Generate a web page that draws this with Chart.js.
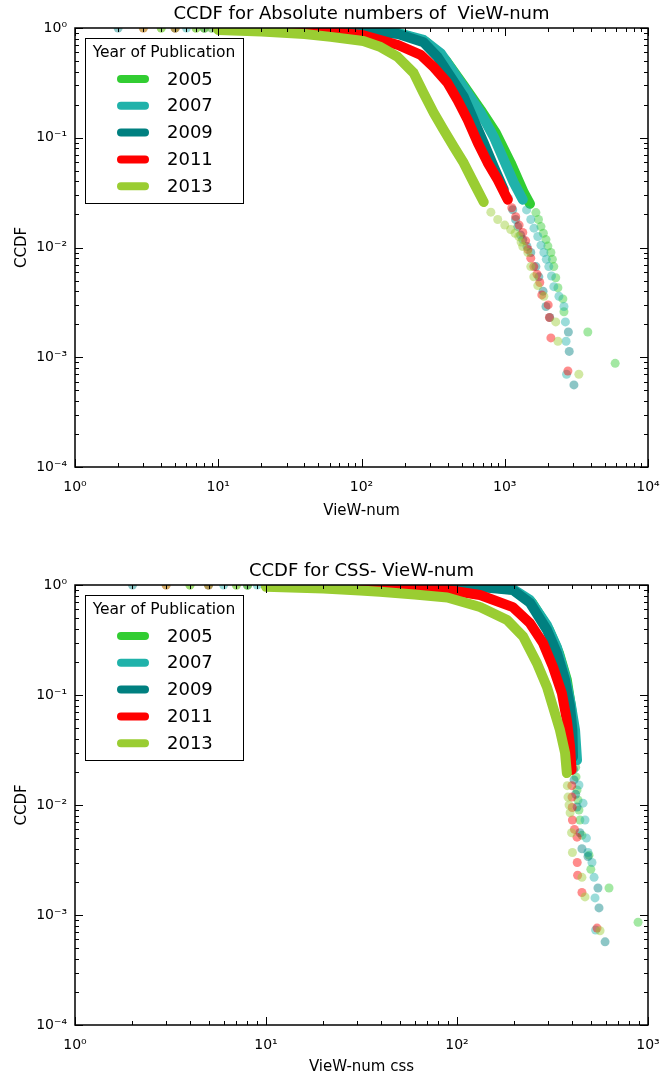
<!DOCTYPE html>
<html>
<head>
<meta charset="utf-8">
<script src="https://cdn.jsdelivr.net/npm/chart.js@4/dist/chart.umd.min.js"></script>
<style>
  html, body { margin: 0; padding: 0; background: #fff; }
  #wrap { position: relative; width: 663px; height: 1078px; }
  canvas { position: absolute; left: 0; }
</style>
</head>
<body>
<div id="wrap">
  <canvas id="absChart" width="663" height="540" style="top:0;width:663px;height:540px"></canvas>
  <canvas id="cssChart" width="663" height="538" style="top:540px;width:663px;height:538px"></canvas>
</div>
<script>
// years and colours (matplotlib named colours)
const years = ['2005', '2007', '2009', '2011', '2013'];
const colors = ['#32CD32', '#20B2AA', '#008080', '#FF0000', '#9ACD32'];
const dotColors = ['rgba(50,205,50,0.45)', 'rgba(32,178,170,0.45)', 'rgba(0,128,128,0.45)',
                   'rgba(255,0,0,0.45)', 'rgba(154,205,50,0.45)'];

const yTicks = [1e-4, 1e-3, 1e-2, 1e-1, 1];
const absXTicks = [1, 10, 100, 1000, 10000];
const cssXTicks = [1, 10, 100, 1000];

// --- CCDF for Absolute numbers of VieW-num : [value, ccdf]
// dense part of each curve
const absBody2005 = [[10,0.99],[20,0.985],[40,0.975],[61,0.96],[100,0.94],[180,0.90],[280,0.75],[387,0.51],[517,0.30],[679,0.18],[865,0.111],[1100,0.059],[1360,0.0316],[1500,0.025]];
const absBody2007 = [[10,0.995],[20,0.985],[40,0.975],[61,0.96],[100,0.94],[180,0.90],[271,0.78],[357,0.59],[517,0.29],[679,0.169],[838,0.102],[984,0.063],[1156,0.039],[1336,0.0273]];
const absBody2009 = [[10,0.995],[20,0.99],[40,0.98],[61,0.965],[103,0.95],[180,0.88],[271,0.74],[340,0.545],[419,0.36],[517,0.236],[607,0.146],[713,0.090],[838,0.0545],[984,0.0337]];
const absBody2011 = [[10,0.99],[20,0.975],[33.5,0.96],[61,0.92],[103,0.86],[180,0.70],[259,0.57],[319,0.44],[399,0.316],[469,0.22],[551,0.146],[648,0.090],[761,0.059],[893,0.0415],[1050,0.0273]];
const absBody2013 = [[10,0.96],[20,0.93],[40,0.88],[61,0.83],[103,0.76],[136,0.67],[179,0.545],[231,0.39],[271,0.256],[319,0.169],[374,0.118],[440,0.083],[517,0.059],[607,0.039],[713,0.026]];
// single points (small values and the sparse tail)
const absDots2005 = [[4,0.999],[7,0.998],[8,0.997],[1650,0.0208],[1720,0.018],[1790,0.0155],[1860,0.0135],[1940,0.0118],[2000,0.0103],[2100,0.0090],[2150,0.0078],[2200,0.0067],[2270,0.0053],[2350,0.0043],[2545,0.0034],[2590,0.0026],[3800,0.0017],[5900,0.00088]];
const absDots2007 = [[6,0.999],[9,0.997],[1420,0.022],[1520,0.018],[1600,0.015],[1700,0.0126],[1790,0.0105],[1875,0.0090],[1950,0.0078],[2030,0.0067],[2120,0.0055],[2200,0.0044],[2390,0.0036],[2590,0.0029],[2650,0.0021],[2680,0.0014],[2700,0.00070]];
const absDots2009 = [[2,0.999],[5,0.998],[8,0.997],[1060,0.028],[1137,0.0221],[1190,0.018],[1233,0.0155],[1290,0.013],[1336,0.0118],[1430,0.0102],[1520,0.0090],[1650,0.0067],[1730,0.0054],[1850,0.0040],[1940,0.0029],[2060,0.0023],[2780,0.0017],[2820,0.00113],[3040,0.00056]];
const absDots2011 = [[3,0.999],[5,0.997],[1120,0.023],[1193,0.0191],[1260,0.016],[1336,0.0137],[1400,0.0115],[1450,0.0096],[1520,0.0080],[1595,0.0067],[1680,0.0057],[1757,0.0048],[1815,0.0037],[2010,0.0030],[2050,0.0023],[2100,0.0015],[2760,0.00075]];
const absDots2013 = [[3,0.998],[4,0.997],[5,0.996],[7,0.995],[8,0.994],[9,0.993],[800,0.021],[893,0.018],[1000,0.016],[1100,0.0146],[1180,0.0135],[1253,0.0126],[1300,0.0112],[1336,0.0102],[1450,0.0090],[1520,0.0067],[1595,0.0054],[1700,0.0045],[1875,0.0036],[2270,0.0021],[2350,0.0014],[3290,0.0007]];

// --- CCDF for CSS- VieW-num
const cssBody2005 = [[10,0.995],[30,0.99],[60,0.985],[100,0.98],[132,0.975],[196,0.91],[247,0.69],[303,0.39],[342,0.24],[376,0.137],[395,0.078],[408,0.045],[415,0.028]];
const cssBody2007 = [[10,0.997],[30,0.99],[60,0.985],[100,0.98],[132,0.97],[196,0.92],[241,0.73],[296,0.43],[334,0.27],[368,0.15],[395,0.081],[415,0.048],[425,0.0256]];
const cssBody2009 = [[10,0.996],[30,0.99],[60,0.985],[89,0.98],[132,0.96],[196,0.90],[241,0.69],[296,0.39],[334,0.24],[368,0.137],[391,0.078],[402,0.048],[405,0.0273]];
const cssBody2011 = [[10,0.995],[21.6,0.98],[39.5,0.96],[89,0.90],[132,0.81],[196,0.63],[241,0.45],[282,0.297],[318,0.18],[354,0.104],[376,0.059],[391,0.0337],[398,0.0208]];
const cssBody2013 = [[10,0.965],[20,0.93],[31,0.89],[39.5,0.87],[60,0.82],[89,0.77],[132,0.63],[183,0.48],[222,0.34],[262,0.195],[296,0.118],[318,0.078],[346,0.048],[368,0.0297],[376,0.0195]];
const cssDots2005 = [[4,0.999],[7,0.998],[8,0.997],[418,0.022],[420,0.018],[425,0.0137],[430,0.0111],[435,0.0090],[440,0.0073],[451,0.0053],[491,0.0035],[502,0.0026],[625,0.00176],[887,0.00086]];
const cssDots2007 = [[6,0.999],[9,0.998],[435,0.0152],[457,0.0104],[468,0.0073],[476,0.0050],[485,0.0037],[509,0.0030],[522,0.0022],[528,0.00143],[532,0.00073]];
const cssDots2009 = [[2,0.999],[5,0.998],[8,0.997],[408,0.021],[410,0.0169],[418,0.0125],[425,0.0096],[440,0.0056],[451,0.0040],[485,0.0034],[547,0.00176],[554,0.00116],[596,0.00057]];
const cssDots2011 = [[3,0.999],[5,0.998],[399,0.015],[400,0.0118],[401,0.0095],[402,0.0073],[412,0.0060],[425,0.0051],[426,0.0030],[428,0.0023],[451,0.0016],[541,0.00076]];
const cssDots2013 = [[3,0.998],[4,0.997],[5,0.996],[7,0.995],[8,0.994],[378,0.015],[381,0.0118],[386,0.0100],[391,0.0085],[398,0.0056],[402,0.0037],[451,0.0022],[468,0.00146],[561,0.00072]];

Chart.defaults.font.family = '"DejaVu Sans", sans-serif';
Chart.defaults.color = '#000';

const SUP = {'-': '\u207B', '0': '\u2070', '1': '\u00B9', '2': '\u00B2', '3': '\u00B3', '4': '\u2074'};
function pow10Label(v) {
  const e = String(Math.round(Math.log10(v)));
  return '10' + e.split('').map(c => SUP[c]).join('');
}

// frame, inward ticks on all four sides, title and the boxed legend
const decor = {
  id: 'decor',
  afterDatasetsDraw(chart, args, opts) {
    const {ctx, chartArea: a, scales: {x, y}} = chart;
    ctx.save();
    ctx.strokeStyle = '#000';
    ctx.lineWidth = 1;
    const marks = (scale) => {
      const out = [];
      const lo = Math.round(Math.log10(scale.min)), hi = Math.round(Math.log10(scale.max));
      for (let e = lo; e < hi; e++) {
        for (let k = 1; k < 10; k++) out.push({v: k * Math.pow(10, e), major: k === 1});
      }
      out.push({v: Math.pow(10, hi), major: true});
      return out;
    };
    ctx.beginPath();
    marks(x).forEach(t => {
      const px = Math.round(x.getPixelForValue(t.v)) + 0.5;
      const len = t.major ? 8 : 4;
      ctx.moveTo(px, a.bottom); ctx.lineTo(px, a.bottom - len);
      ctx.moveTo(px, a.top); ctx.lineTo(px, a.top + len);
    });
    marks(y).forEach(t => {
      const py = Math.round(y.getPixelForValue(t.v)) + 0.5;
      const len = t.major ? 8 : 4;
      ctx.moveTo(a.left, py); ctx.lineTo(a.left + len, py);
      ctx.moveTo(a.right, py); ctx.lineTo(a.right - len, py);
    });
    ctx.stroke();
    ctx.lineWidth = 1.5;
    ctx.strokeRect(a.left, a.top, a.right - a.left, a.bottom - a.top);

    // title
    ctx.fillStyle = '#000';
    ctx.font = '18px "DejaVu Sans"';
    ctx.textAlign = 'center';
    ctx.textBaseline = 'middle';
    ctx.fillText(opts.title, (a.left + a.right) / 2, a.top - 14);

    // legend
    const bx = a.left + 10, by = a.top + 10, bw = 158, bh = 165;
    ctx.fillStyle = '#fff';
    ctx.fillRect(bx, by, bw, bh);
    ctx.lineWidth = 1;
    ctx.strokeRect(bx + 0.5, by + 0.5, bw, bh);
    ctx.fillStyle = '#000';
    ctx.font = '15.5px "DejaVu Sans"';
    ctx.fillText('Year of Publication', bx + bw / 2, by + 15);
    ctx.textAlign = 'left';
    ctx.font = '18px "DejaVu Sans"';
    ctx.lineCap = 'round';
    ctx.lineWidth = 8;
    years.forEach((yr, i) => {
      const ry = by + 41 + i * 26.8;
      ctx.strokeStyle = colors[i];
      ctx.beginPath();
      ctx.moveTo(bx + 36, ry); ctx.lineTo(bx + 60, ry);
      ctx.stroke();
      ctx.fillText(yr, bx + 82, ry + 1);
    });
    ctx.restore();
  }
};

function toXY(pairs) {
  return pairs.map(p => ({x: p[0], y: p[1]}));
}

function makeChart(id, cfg) {
  const datasets = [];
  // first dataset is drawn on top, so 2013 goes first
  for (let i = years.length - 1; i >= 0; i--) {
    datasets.push({
      label: years[i] + ' dots',
      data: toXY(cfg.dots[i]),
      showLine: false,
      pointRadius: 4.5,
      pointHoverRadius: 4.5,
      pointBorderWidth: 0,
      pointBackgroundColor: dotColors[i],
      clip: 0
    });
    datasets.push({
      label: years[i],
      data: toXY(cfg.body[i]),
      showLine: true,
      pointRadius: 0,
      borderWidth: 10,
      borderColor: colors[i],
      borderCapStyle: 'round',
      borderJoinStyle: 'round',
      tension: 0,
      clip: 0
    });
  }
  return new Chart(document.getElementById(id), {
    type: 'scatter',
    data: {datasets},
    options: {
      responsive: false,
      animation: false,
      events: [],
      layout: {padding: cfg.padding},
      plugins: {
        legend: {display: false},
        tooltip: {enabled: false},
        decor: {title: cfg.title}
      },
      scales: {
        x: {
          type: 'logarithmic',
          min: cfg.xTicks[0],
          max: cfg.xTicks[cfg.xTicks.length - 1],
          grid: {display: false, drawTicks: false},
          border: {display: false},
          afterBuildTicks: s => { s.ticks = cfg.xTicks.map(v => ({value: v})); },
          afterFit: s => { s.height = cfg.xAxisHeight; s.paddingLeft = 0; s.paddingRight = 0; },
          ticks: {autoSkip: false, maxRotation: 0, padding: 12, font: {size: 14}, callback: v => pow10Label(v)},
          title: {display: true, text: cfg.xTitle, font: {size: 15}, padding: {top: 0, bottom: cfg.xTitlePad}}
        },
        y: {
          type: 'logarithmic',
          min: 1e-4,
          max: 1,
          grid: {display: false, drawTicks: false},
          border: {display: false},
          afterBuildTicks: s => { s.ticks = yTicks.map(v => ({value: v})); },
          afterFit: s => { s.width = 75; s.paddingTop = 0; s.paddingBottom = 0; },
          ticks: {autoSkip: false, padding: 8, font: {size: 14}, callback: v => pow10Label(v)},
          title: {display: true, text: 'CCDF', font: {size: 15}, padding: {top: 13, bottom: 0}}
        }
      }
    },
    plugins: [decor]
  });
}

makeChart('absChart', {
  title: 'CCDF for Absolute numbers of  VieW-num',
  xTitle: 'VieW-num',
  xTicks: absXTicks,
  body: [absBody2005, absBody2007, absBody2009, absBody2011, absBody2013],
  dots: [absDots2005, absDots2007, absDots2009, absDots2011, absDots2013],
  padding: {top: 28, right: 15, bottom: 17, left: 0},
  xAxisHeight: 56,
  xTitlePad: 3
});

makeChart('cssChart', {
  title: 'CCDF for CSS- VieW-num',
  xTitle: 'VieW-num css',
  xTicks: cssXTicks,
  body: [cssBody2005, cssBody2007, cssBody2009, cssBody2011, cssBody2013],
  dots: [cssDots2005, cssDots2007, cssDots2009, cssDots2011, cssDots2013],
  padding: {top: 45, right: 15, bottom: 0, left: 0},
  xAxisHeight: 53,
  xTitlePad: 2
});
</script>
</body>
</html>
